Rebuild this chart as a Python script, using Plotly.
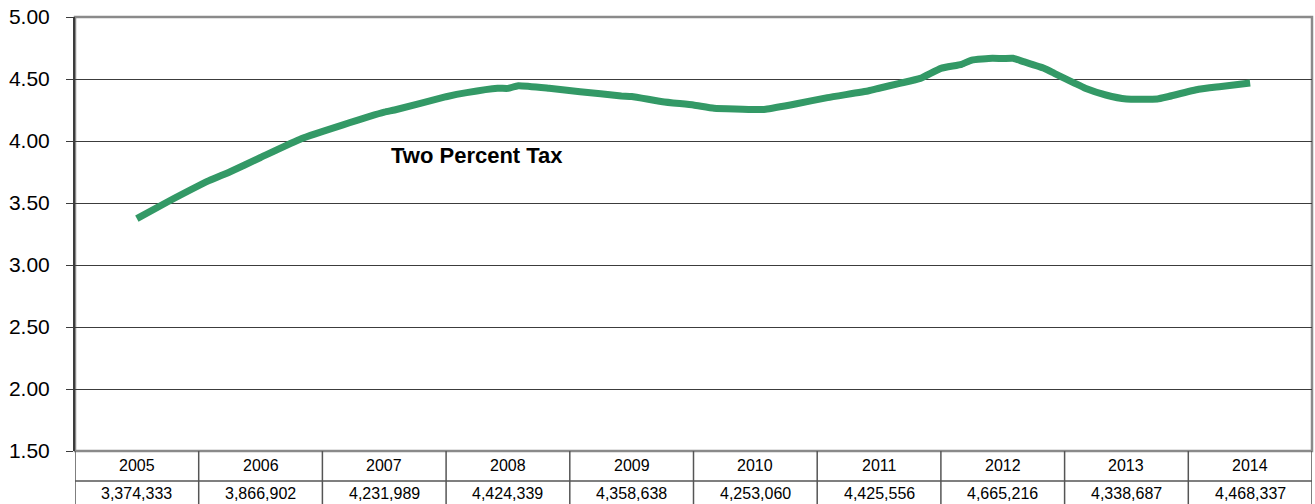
import plotly.graph_objects as go

# Annual totals (collections, in dollars) shown in the table beneath the chart
years = ["2005", "2006", "2007", "2008", "2009", "2010", "2011", "2012", "2013", "2014"]
annual_totals = [3374333, 3866902, 4231989, 4424339, 4358638,
                 4253060, 4425556, 4665216, 4338687, 4468337]

# Rolling twelve-month collections (millions) between the annual points,
# keyed by months elapsed since the 2005 point
interim_months = [3, 7, 9, 16, 20, 25, 30, 32, 35, 37, 40, 43, 47, 51, 54, 56,
                  61, 64, 67, 71, 74, 76, 78, 80, 81, 83, 85, 86, 88, 89, 91,
                  92, 94, 99, 100, 103, 105]
interim_values = [3.51, 3.68, 3.75, 4.02, 4.13, 4.25, 4.357, 4.39, 4.425, 4.446,
                  4.425, 4.398, 4.363, 4.317, 4.29, 4.264, 4.256, 4.30, 4.35,
                  4.405, 4.465, 4.505, 4.586, 4.618, 4.653, 4.667, 4.667, 4.640,
                  4.586, 4.546, 4.465, 4.425, 4.371, 4.339, 4.357, 4.417, 4.438]

series_label = "Two Percent Tax"

# merge annual and interim points into one time-ordered series
points = [(12 * i, t / 1e6) for i, t in enumerate(annual_totals)]
points += list(zip(interim_months, interim_values))
points.sort()
xs = [m / 12 for m, _ in points]
ys = [v for _, v in points]

FONT = "Liberation Sans, Arial, sans-serif"
GREEN = "#339966"

fig = go.Figure()
fig.add_trace(go.Scatter(
    x=xs, y=ys, mode="lines",
    line=dict(color=GREEN, width=7, shape="spline", smoothing=0.4),
    hoverinfo="skip", showlegend=False,
))

fig.add_annotation(
    x=2.75, y=3.885, xref="x", yref="y", text="<b>%s</b>" % series_label,
    showarrow=False, font=dict(family=FONT, size=22, color="#000000"),
)

# table under the plot: year row and total row
row_h = 30 / 434
shapes = []
for k in range(len(years) + 1):
    shapes.append(dict(type="line", xref="x", yref="paper",
                       x0=k - 0.5, x1=k - 0.5, y0=0, y1=-0.2,
                       line=dict(color="#555555", width=1.5)))
shapes.append(dict(type="line", xref="x", yref="paper",
                   x0=-0.5, x1=len(years) - 0.5, y0=-row_h, y1=-row_h,
                   line=dict(color="#555555", width=1.5)))
# plot frame (top/right grey border)
shapes.append(dict(type="rect", xref="paper", yref="paper",
                   x0=0, x1=1, y0=0, y1=1,
                   line=dict(color="#8a8a8a", width=2.5), layer="below"))

for i, (yr, tot) in enumerate(zip(years, annual_totals)):
    fig.add_annotation(x=i, y=-row_h / 2, xref="x", yref="paper", text=yr,
                       showarrow=False, yanchor="middle",
                       font=dict(family=FONT, size=16, color="#000000"))
    fig.add_annotation(x=i, y=-row_h - 0.028, xref="x", yref="paper",
                       text=f"{tot:,}", showarrow=False, yanchor="middle",
                       font=dict(family=FONT, size=16, color="#000000"))

fig.update_layout(
    width=1315, height=504,
    margin=dict(l=75, r=3, t=17, b=53),
    paper_bgcolor="#ffffff", plot_bgcolor="#ffffff",
    shapes=shapes,
    xaxis=dict(range=[-0.5, len(years) - 0.5], showticklabels=False,
               showgrid=False, zeroline=False, fixedrange=True),
    yaxis=dict(range=[1.5, 5.0], dtick=0.5, tick0=1.5, tickformat=".2f",
               showgrid=True, gridcolor="#3c3c3c", gridwidth=1,
               zeroline=False, ticks="outside", ticklen=7, tickcolor="#3c3c3c",
               showline=True, linecolor="#3c3c3c", linewidth=2,
               ticklabelstandoff=12,
               tickfont=dict(family=FONT, size=21, color="#000000"),
               fixedrange=True),
)

fig.write_html("out.html")
